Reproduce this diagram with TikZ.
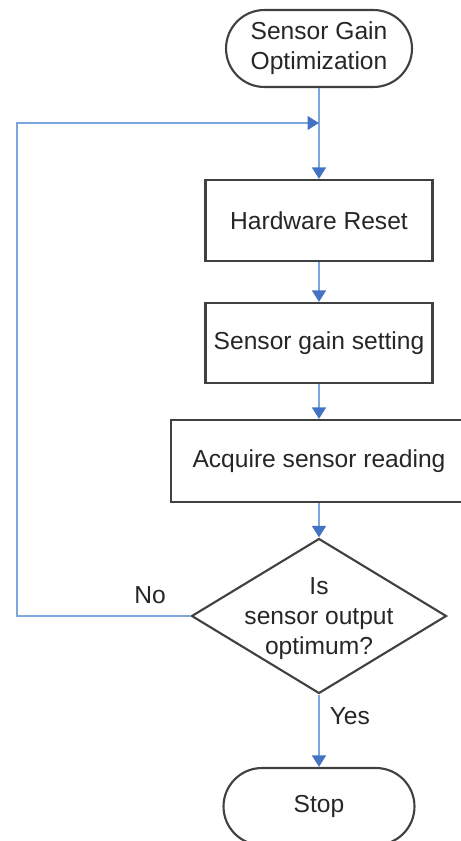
\documentclass[tikz,border=0pt]{standalone}
\usepackage{fontspec}
\setmainfont{Liberation Sans}
\usetikzlibrary{shapes.geometric,arrows.meta}
\definecolor{flowline}{RGB}{125,165,222}
\definecolor{flowtip}{RGB}{68,114,196}
\definecolor{boxline}{RGB}{64,64,64}
\begin{document}
\begin{tikzpicture}[x=0.02cm, y=-0.02cm, >={Triangle[length=0.23cm,width=0.27cm,color=flowtip]},
	box/.style={draw=boxline, line width=1.2pt, inner sep=0pt, align=center, text=black!85,
		font=\fontsize{14}{17}\selectfont, minimum width=4.54cm, minimum height=1.62cm},
	term/.style={box, rounded corners=0.77cm, minimum width=3.72cm, minimum height=1.54cm},
	flow/.style={draw=flowline, line width=1.6pt},
	lbl/.style={text=black!85, font=\fontsize{14}{17}\selectfont}]
	\useasboundingbox (0,0) rectangle (460,841);
	\path
		(319,48.5) node[term] (start) {Sensor Gain\\Optimization}
		(319,123) coordinate (join)
		(319,220.5) node[box] (reset) {Hardware Reset}
		(319,343) node[box, minimum height=1.6cm] (gain) {Sensor gain setting}
		(319,461) node[box, minimum width=5.92cm, minimum height=1.64cm] (acquire) {Acquire sensor reading}
		(319,616) node[box, diamond, aspect=1.645, inner sep=-2.2pt, minimum width=5.1cm, minimum height=3.1cm, text depth=0pt] (check) {Is\\sensor output\\optimum?}
		(319,806.5) node[term, minimum width=3.82cm] (stop) {Stop}
		(17,616) coordinate (back)
		(17,123) coordinate (top)
	;
	\draw[flow, ->] (start) -- (reset);
	\draw[flow, ->] (reset) -- (gain);
	\draw[flow, ->] (gain) -- (acquire);
	\draw[flow, ->] (acquire) -- (check);
	\draw[flow, ->] (check) -- (stop) node[lbl, pos=.3, right=2pt]{Yes};
	\draw[flow, ->] (check.west) -- (back) -- (top) -- (join);
	\path (150,595) node[lbl] (no) {No};
\end{tikzpicture}
\end{document}
